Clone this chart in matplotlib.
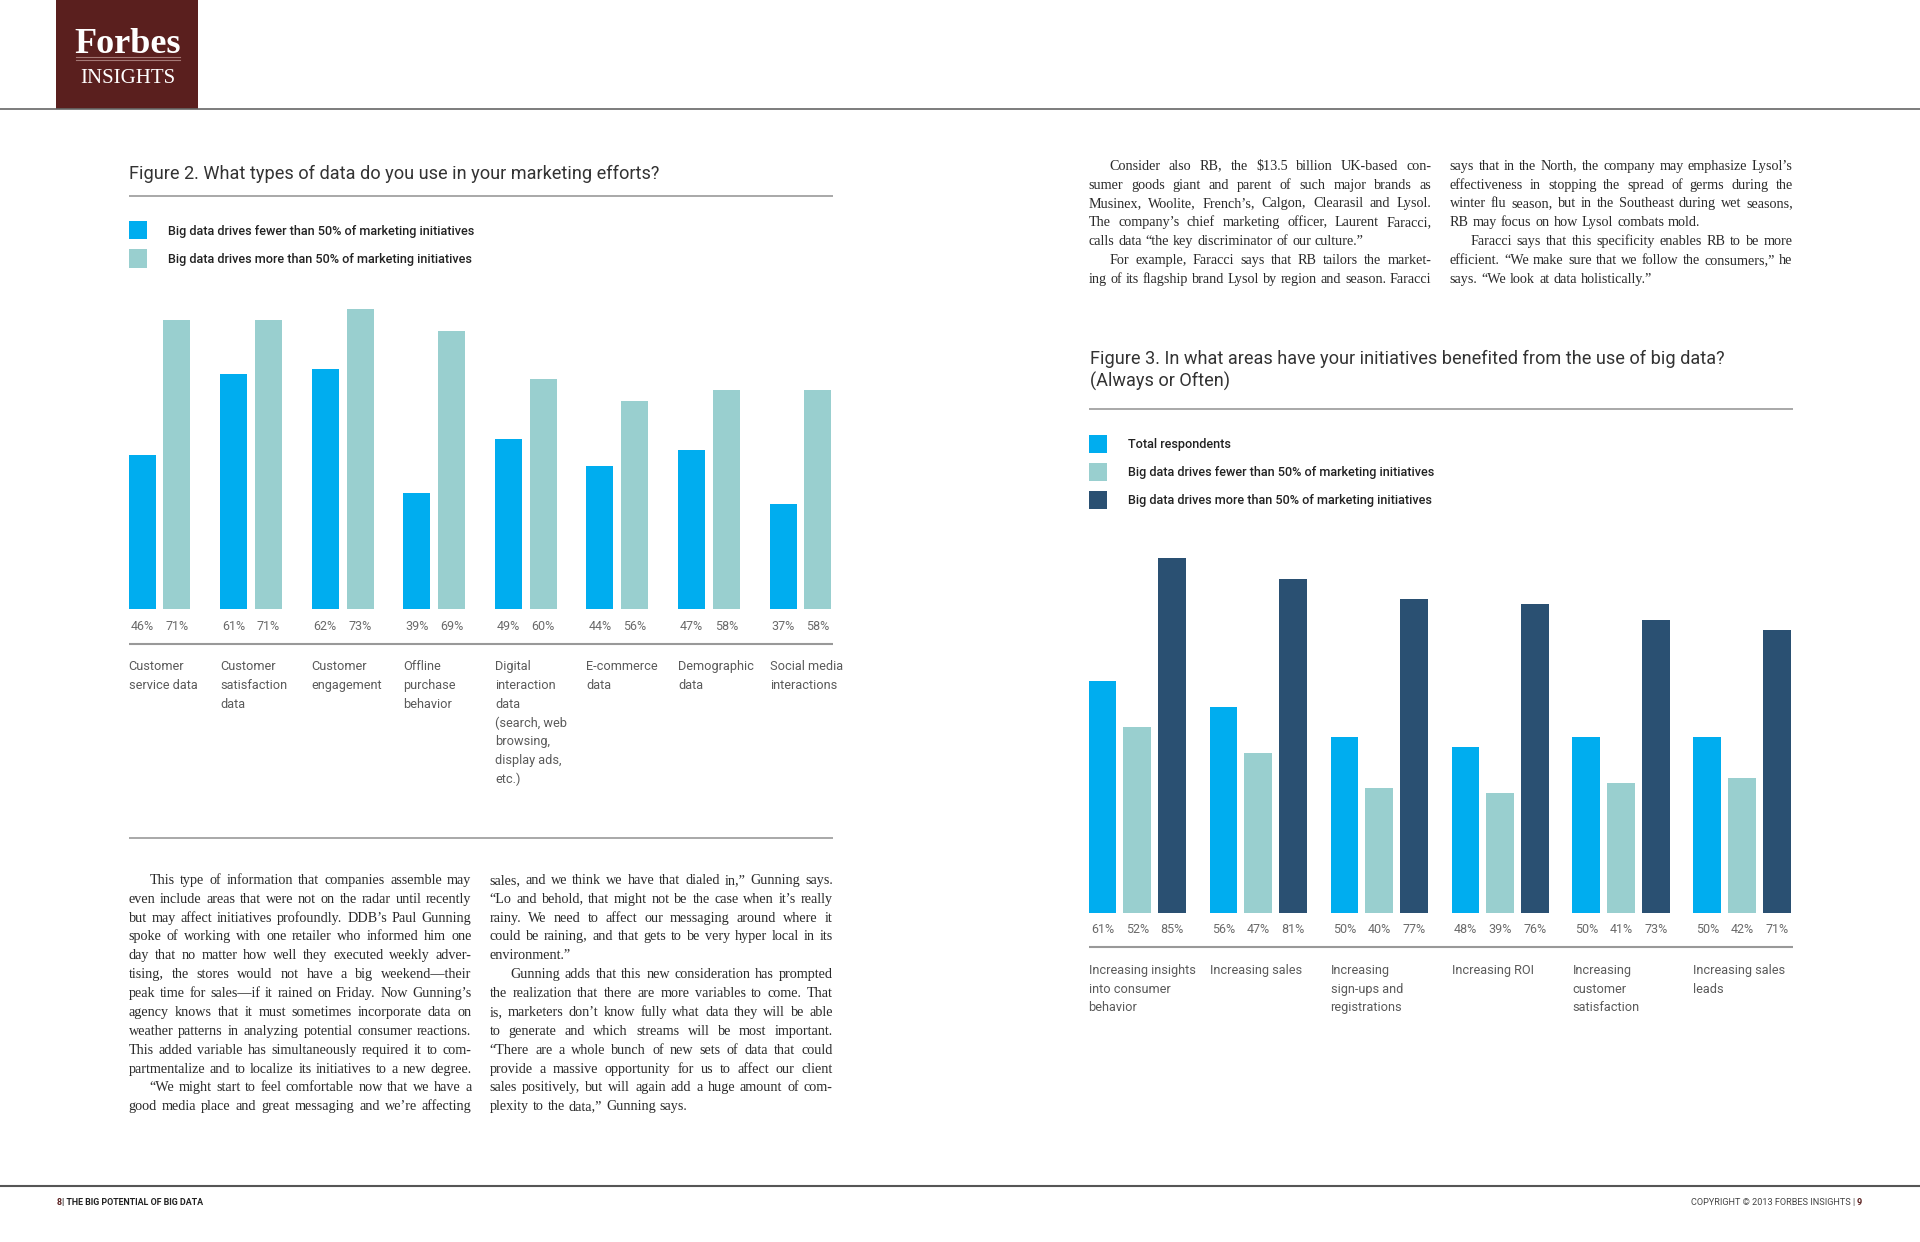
import numpy as np
import matplotlib
matplotlib.use('Agg')
import matplotlib.pyplot as plt
from matplotlib.patches import Rectangle
from matplotlib.transforms import blended_transform_factory

# page layout units (the page is laid out on a 1568 x 1014 grid)
W, H = 1568, 1014

BLUE = '#00adef'
TEAL = '#99cfcf'
NAVY = '#2a5072'
MAROON = '#5a1f1e'

# ---- Figure 2 data
fig2_categories = ["Customer\nservice data", "Customer\nsatisfaction\ndata", "Customer\nengagement",
                   "Offline\npurchase\nbehavior",
                   "Digital\ninteraction\ndata\n(search, web\nbrowsing,\ndisplay ads,\netc.)",
                   "E-commerce\ndata", "Demographic\ndata", "Social media\ninteractions"]
fig2_fewer = [46, 61, 62, 39, 49, 44, 47, 37]
fig2_more = [71, 71, 73, 69, 60, 56, 58, 58]
fig2_series = ["Big data drives fewer than 50% of marketing initiatives",
               "Big data drives more than 50% of marketing initiatives"]

# ---- Figure 3 data
fig3_categories = ["Increasing insights\ninto consumer\nbehavior", "Increasing sales",
                   "Increasing\nsign-ups and\nregistrations", "Increasing ROI",
                   "Increasing\ncustomer\nsatisfaction", "Increasing sales\nleads"]
fig3_total = [61, 56, 50, 48, 50, 50]
fig3_fewer = [52, 47, 40, 39, 41, 42]
fig3_more = [85, 81, 77, 76, 73, 71]
fig3_series = ["Total respondents",
               "Big data drives fewer than 50% of marketing initiatives",
               "Big data drives more than 50% of marketing initiatives"]

# ---- body copy
left_col1 = [
    "This type of information that companies assemble may",
    "even include areas that were not on the radar until recently",
    "but may affect initiatives profoundly. DDB’s Paul Gunning",
    "spoke of working with one retailer who informed him one",
    "day that no matter how well they executed weekly adver-",
    "tising, the stores would not have a big weekend—their",
    "peak time for sales—if it rained on Friday. Now Gunning’s",
    "agency knows that it must sometimes incorporate data on",
    "weather patterns in analyzing potential consumer reactions.",
    "This added variable has simultaneously required it to com-",
    "partmentalize and to localize its initiatives to a new degree.",
    "“We might start to feel comfortable now that we have a",
    "good media place and great messaging and we’re affecting",
]
left_col2 = [
    "sales, and we think we have that dialed in,” Gunning says.",
    "“Lo and behold, that might not be the case when it’s really",
    "rainy. We need to affect our messaging around where it",
    "could be raining, and that gets to be very hyper local in its",
    "environment.”",
    "Gunning adds that this new consideration has prompted",
    "the realization that there are more variables to come. That",
    "is, marketers don’t know fully what data they will be able",
    "to generate and which streams will be most important.",
    "“There are a whole bunch of new sets of data that could",
    "provide a massive opportunity for us to affect our client",
    "sales positively, but will again add a huge amount of com-",
    "plexity to the data,” Gunning says.",
]
right_col1 = [
    "Consider also RB, the $13.5 billion UK-based con-",
    "sumer goods giant and parent of such major brands as",
    "Musinex, Woolite, French’s, Calgon, Clearasil and Lysol.",
    "The company’s chief marketing officer, Laurent Faracci,",
    "calls data “the key discriminator of our culture.”",
    "For example, Faracci says that RB tailors the market-",
    "ing of its flagship brand Lysol by region and season. Faracci",
]
right_col2 = [
    "says that in the North, the company may emphasize Lysol’s",
    "effectiveness in stopping the spread of germs during the",
    "winter flu season, but in the Southeast during wet seasons,",
    "RB may focus on how Lysol combats mold.",
    "Faracci says that this specificity enables RB to be more",
    "efficient. “We make sure that we follow the consumers,” he",
    "says. “We look at data holistically.”",
]

SANS = ['Roboto', 'DejaVu Sans']
SERIF = ['Liberation Serif', 'DejaVu Serif']

fig = plt.figure(figsize=(19.2, 12.42), dpi=100)
bg = fig.add_axes([0, 0, 1, 1])
bg.set_xlim(0, W)
bg.set_ylim(H, 0)
bg.axis('off')


def rect(x0, y0, x1, y1):
    return [x0 / W, 1 - y1 / H, (x1 - x0) / W, (y1 - y0) / H]


def hline(y, x0, x1, color='#999999', lw=1.2):
    bg.plot([x0, x1], [y, y], color=color, lw=lw, solid_capstyle='butt')


# ---- header
bg.add_patch(Rectangle((46, 0), 116, 89, color=MAROON, lw=0))
bg.text(104, 43, "Forbes", family=SERIF, weight='bold', fontsize=26, color='white',
        ha='center', va='baseline')
bg.plot([62, 147], [46.5, 46.5], color='#a57976', lw=0.8)
bg.plot([62, 147], [48.6, 48.6], color='#a57976', lw=0.8)
bg.text(104.5, 68, "INSIGHTS", family=SERIF, fontsize=15, color='white', ha='center', va='baseline')
hline(89, 0, W, color='#666666', lw=1.2)

# ---- footer
hline(968, 0, W, color='#555555', lw=1.5)
bg.text(46, 984, "8", family=SANS, weight='bold', fontsize=6.4, color=MAROON, va='baseline')
bg.text(51, 984, "| THE BIG POTENTIAL OF BIG DATA", family=SANS, weight='bold', fontsize=6.4,
        color='#222222', va='baseline')
bg.text(1515, 984, "COPYRIGHT © 2013 FORBES INSIGHTS |", family=SANS, fontsize=6.6,
        color='#444444', va='baseline', ha='right')
bg.text(1516.5, 984, "9", family=SANS, weight='bold', fontsize=6.6, color=MAROON, va='baseline')


def legend(x, y0, dy, labels, colors):
    for i, (lab, c) in enumerate(zip(labels, colors)):
        y = y0 + i * dy
        bg.add_patch(Rectangle((x, y - 7.5), 15, 15, color=c, lw=0))
        bg.text(x + 32, y + 3.5, lab, family=SANS, weight='medium', fontsize=9.1,
                color='#222222', va='baseline')


def bar_chart(box, ylim, series, colors, width, pitch, categories, pct_y, cat_y):
    ax = fig.add_axes(rect(*box))
    ax.patch.set_alpha(0)
    n = len(categories)
    x = np.arange(n)
    for k, (vals, c) in enumerate(zip(series, colors)):
        ax.bar(x + k * pitch, vals, width=width, color=c, lw=0)
    ax.set_xlim(-width / 2, n - 1 + (len(series) - 1) * pitch + width / 2)
    ax.set_ylim(*ylim)
    ax.axis('off')
    tr = blended_transform_factory(ax.transData, bg.transData)
    for k, vals in enumerate(series):
        for i, v in enumerate(vals):
            bg.text(i + k * pitch, pct_y, f"{v}%", transform=tr, family=SANS,
                    fontsize=9, color='#6a6a6a', ha='center', va='baseline')
    for i, cat in enumerate(categories):
        for j, part in enumerate(cat.split('\n')):
            bg.text(i - width / 2, cat_y + j * 15.4, part, transform=tr, family=SANS,
                    fontsize=9.2, color='#5a5a5a', ha='left', va='baseline')
    return ax


# ---- Figure 2
bg.text(105, 146, "Figure 2. What types of data do you use in your marketing efforts?",
        family=SANS, fontsize=13.1, color='#333333', va='baseline')
hline(160, 105, 680)
legend(105, 188, 23, fig2_series, [BLUE, TEAL])
bar_chart((105, 221.5, 679, 497), (17.6, 80), [fig2_fewer, fig2_more], [BLUE, TEAL],
          0.295, 0.38, fig2_categories, 514, 547)
hline(526, 105, 680, lw=1.5)
hline(684, 105, 680, lw=1.2)

# ---- Figure 3
bg.text(890, 297, "Figure 3. In what areas have your initiatives benefited from the use of big data?",
        family=SANS, fontsize=13.1, color='#333333', va='baseline')
bg.text(890, 316, "(Always or Often)", family=SANS, fontsize=13.1, color='#333333', va='baseline')
hline(334, 889, 1464)
legend(889, 362.5, 22.8, fig3_series, [BLUE, TEAL, NAVY])
bar_chart((889, 435, 1462.5, 745), (15.7, 90), [fig3_total, fig3_fewer, fig3_more],
          [BLUE, TEAL, NAVY], 0.2277, 0.2885, fig3_categories, 762, 795)
hline(773, 889, 1464, lw=1.5)

# ---- justified body copy
renderer = fig.canvas.get_renderer()
unit = W / fig.bbox.width
BODY_FS = 10.2


def column(lines, x0, x1, y0, indents=(), lasts=()):
    for i, line in enumerate(lines):
        y = y0 + i * 15.42
        start = x0 + (17 if i in indents else 0)
        words = line.split()
        ts = [bg.text(0, y, w, family=SERIF, fontsize=BODY_FS, color='#2b2b2b',
                      va='baseline', parse_math=False) for w in words]
        widths = [t.get_window_extent(renderer).width * unit for t in ts]
        if i in lasts or len(words) == 1:
            gap = 3.2
        else:
            gap = (x1 - start - sum(widths)) / (len(words) - 1)
        xx = start
        for t, w in zip(ts, widths):
            t.set_x(xx)
            xx += w + gap


column(left_col1, 105, 385, 721.5, indents=(0, 11))
column(left_col2, 400, 680, 721.5, indents=(5,), lasts=(4, 12))
column(right_col1, 889, 1169, 138.5, indents=(0, 5), lasts=(4,))
column(right_col2, 1184, 1464, 138.5, indents=(4,), lasts=(3, 6))

fig.savefig('out.png', dpi=100)
